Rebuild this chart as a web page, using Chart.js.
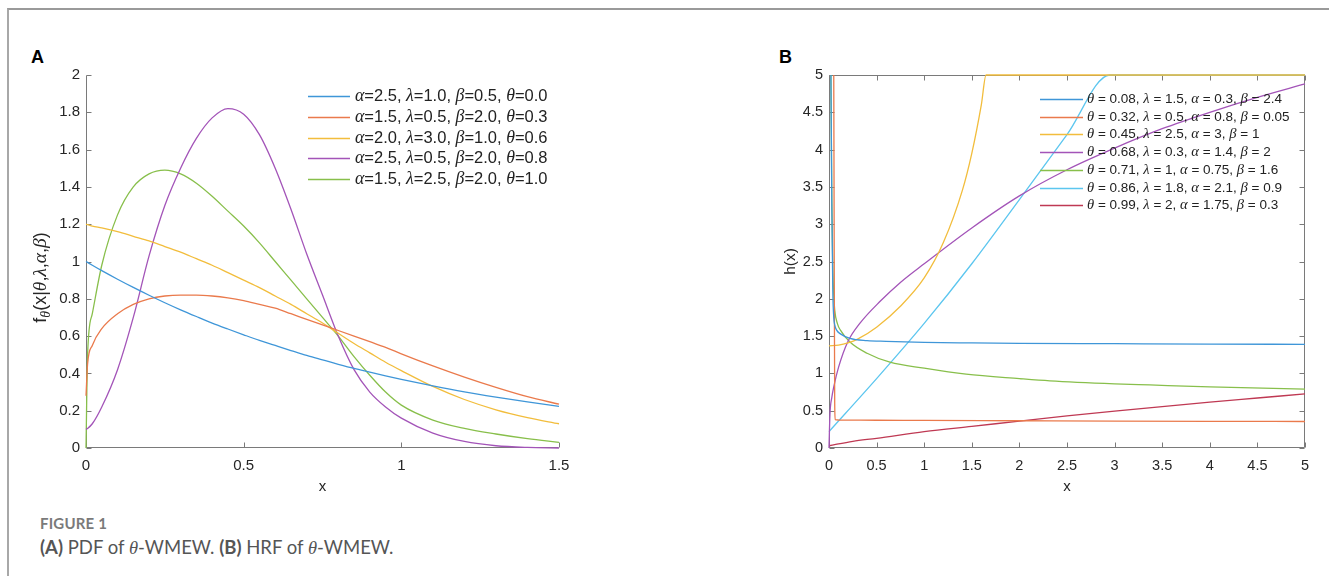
<!DOCTYPE html>
<html>
<head>
<meta charset="utf-8">
<script src="https://cdn.jsdelivr.net/npm/chart.js@4.4.1/dist/chart.umd.min.js"></script>
<style>
  body { margin: 0; background: #fff; }
  #page { position: relative; width: 1329px; height: 576px; overflow: hidden; }
  #frame { position: absolute; left: 7px; top: 8px; width: 1330px; height: 580px;
           border-top: 2px solid #9a9a9a; border-left: 2px solid #a8a8a8; }
  canvas { position: absolute; }
  .tag { position: absolute; font: bold 18px "Liberation Sans", Arial, sans-serif; color: #000; line-height: 1; }
  #cap1 { position: absolute; left: 40px; top: 516px; font: bold 15px Lato, sans-serif; color: #7a7a7a; line-height: 1; letter-spacing: 0.2px; }
  #cap2 { position: absolute; left: 40px; top: 538px; font: 18.5px Lato, sans-serif; color: #555; line-height: 1; }
  #cap2 i { font-family: "Liberation Serif", serif; }
</style>
</head>
<body>
<div id="page">
  <div id="frame"></div>
  <div class="tag" style="left:31px;top:48px">A</div>
  <div class="tag" style="left:779px;top:48px">B</div>
  <canvas id="pdf" width="600" height="460" style="left:0;top:40px"></canvas>
  <canvas id="hrf" width="589" height="460" style="left:740px;top:40px"></canvas>
  <div id="cap1">FIGURE 1</div>
  <div id="cap2"><b>(A)</b> PDF of <i>θ</i>-WMEW. <b>(B)</b> HRF of <i>θ</i>-WMEW.</div>
</div>
<script>
// ---- panel A: PDF curves ----
const pdfX = [0, 0.005, 0.02, 0.05, 0.1, 0.15, 0.2, 0.25, 0.3, 0.35, 0.4, 0.45, 0.5, 0.55,
  0.6, 0.65, 0.7, 0.75, 0.8, 0.85, 0.9, 0.95, 1.0, 1.1, 1.2, 1.3, 1.4, 1.5];
const pdfBlue   = [1.0, 0.995, 0.98, 0.951, 0.905, 0.861, 0.819, 0.779, 0.741, 0.705, 0.67, 0.638, 0.607, 0.577,
  0.55, 0.522, 0.497, 0.472, 0.449, 0.427, 0.407, 0.387, 0.368, 0.333, 0.301, 0.273, 0.247, 0.223];
const pdfOrange = [0.28, 0.45, 0.55, 0.64, 0.72, 0.77, 0.8, 0.815, 0.82, 0.82, 0.815, 0.805, 0.79, 0.77,
  0.75, 0.72, 0.69, 0.66, 0.63, 0.6, 0.57, 0.54, 0.505, 0.44, 0.38, 0.325, 0.275, 0.235];
const pdfYellow = [1.2, 1.198, 1.19, 1.18, 1.16, 1.135, 1.11, 1.08, 1.05, 1.015, 0.98, 0.94, 0.9, 0.86,
  0.815, 0.77, 0.72, 0.67, 0.615, 0.56, 0.51, 0.46, 0.415, 0.33, 0.26, 0.205, 0.163, 0.13];
const pdfPurple = [0.1, 0.105, 0.13, 0.22, 0.42, 0.7, 1.03, 1.3, 1.5, 1.66, 1.77, 1.82, 1.79, 1.68,
  1.5, 1.28, 1.04, 0.82, 0.6, 0.42, 0.3, 0.22, 0.16, 0.08, 0.035, 0.012, 0.003, 0.0];
const pdfGreen  = [0, 0.5, 0.72, 0.98, 1.25, 1.4, 1.47, 1.49, 1.47, 1.42, 1.35, 1.27, 1.19, 1.1,
  1.0, 0.9, 0.8, 0.7, 0.6, 0.49, 0.39, 0.3, 0.23, 0.15, 0.105, 0.075, 0.05, 0.03];
const pdfLabels = [
  'α=2.5, λ=1.0, β=0.5, θ=0.0',
  'α=1.5, λ=0.5, β=2.0, θ=0.3',
  'α=2.0, λ=3.0, β=1.0, θ=0.6',
  'α=2.5, λ=0.5, β=2.0, θ=0.8',
  'α=1.5, λ=2.5, β=2.0, θ=1.0'
];
const pdfColors = ['#3f96d8', '#ea7a4c', '#f2bd3c', '#a354b8', '#88bf4b'];
const pdfSeries = [pdfBlue, pdfOrange, pdfYellow, pdfPurple, pdfGreen];

// ---- panel B: HRF curves ----
const hrfBlueX   = [0.02, 0.03, 0.04, 0.05, 0.06, 0.08, 0.12, 0.22, 0.4, 0.6, 1, 1.5, 2, 3, 4, 5];
const hrfBlueY   = [5, 3.2, 2.1, 1.75, 1.65, 1.58, 1.53, 1.47, 1.44, 1.43, 1.415, 1.408, 1.403, 1.398, 1.393, 1.39];
const hrfOrangeX = [0.05, 0.055, 0.06, 0.065, 0.1, 0.5, 1, 2, 3, 4, 5];
const hrfOrangeY = [5, 2.5, 0.6, 0.38, 0.375, 0.372, 0.37, 0.365, 0.36, 0.357, 0.355];
const hrfYellowX = [0, 0.1, 0.2, 0.3, 0.5, 0.75, 1, 1.2, 1.4, 1.5, 1.6, 1.65, 2, 3, 4, 5];
const hrfYellowY = [1.37, 1.38, 1.41, 1.46, 1.62, 1.9, 2.28, 2.75, 3.45, 3.95, 4.6, 5, 5, 5, 5, 5];
const hrfPurpleX = [0, 0.01, 0.03, 0.05, 0.1, 0.2, 0.33, 0.54, 0.75, 1, 1.5, 2, 2.5, 3, 3.5, 4, 4.5, 5];
const hrfPurpleY = [0, 0.45, 0.68, 0.82, 1.08, 1.43, 1.68, 1.97, 2.22, 2.47, 2.95, 3.38, 3.73, 4.02, 4.28, 4.5, 4.7, 4.88];
const hrfGreenX  = [0.02, 0.03, 0.04, 0.05, 0.06, 0.09, 0.12, 0.22, 0.4, 0.64, 1, 1.44, 2, 2.32, 3, 3.37, 4, 5];
const hrfGreenY  = [5, 3.3, 2.4, 2.05, 1.85, 1.66, 1.58, 1.42, 1.27, 1.15, 1.07, 0.99, 0.93, 0.9, 0.86, 0.845, 0.82, 0.79];
const hrfCyanX   = [0, 0.5, 1, 1.5, 2, 2.5, 2.95, 3.5, 4, 4.5, 5];
const hrfCyanY   = [0.22, 0.93, 1.67, 2.47, 3.33, 4.2, 5, 5, 5, 5, 5];
const hrfRedX    = [0, 0.25, 0.5, 1, 1.5, 2, 2.5, 3, 3.5, 4, 4.5, 5];
const hrfRedY    = [0.03, 0.09, 0.13, 0.22, 0.29, 0.36, 0.43, 0.495, 0.555, 0.615, 0.67, 0.725];
const hrfLabels = [
  'θ = 0.08, λ = 1.5, α = 0.3, β = 2.4',
  'θ = 0.32, λ = 0.5, α = 0.8, β = 0.05',
  'θ = 0.45, λ = 2.5, α = 3, β = 1',
  'θ = 0.68, λ = 0.3, α = 1.4, β = 2',
  'θ = 0.71, λ = 1, α = 0.75, β = 1.6',
  'θ = 0.86, λ = 1.8, α = 2.1, β = 0.9',
  'θ = 0.99, λ = 2, α = 1.75, β = 0.3'
];
const hrfColors = ['#3f96d8', '#ea7a4c', '#f2bd3c', '#a354b8', '#88bf4b', '#5cc6ef', '#bf3953'];
const hrfSeries = [
  [hrfBlueX, hrfBlueY], [hrfOrangeX, hrfOrangeY], [hrfYellowX, hrfYellowY], [hrfPurpleX, hrfPurpleY],
  [hrfGreenX, hrfGreenY], [hrfCyanX, hrfCyanY], [hrfRedX, hrfRedY]
];

const SANS = '"Liberation Sans", Arial, sans-serif';
const SERIF = '"Liberation Serif", "Times New Roman", serif';
const AXIS = '#7a7a7a';
const TEXT = '#262626';

// split label in runs: greek letters italic serif, "_c" = subscript
function richParts(str) {
  const parts = [];
  for (let i = 0; i < str.length; i++) {
    let ch = str[i], sub = false;
    if (ch === '_') { sub = true; ch = str[++i]; }
    const greek = /[αβλθ]/.test(ch);
    const last = parts[parts.length - 1];
    if (last && last.greek === greek && last.sub === sub) last.t += ch;
    else parts.push({ t: ch, greek, sub });
  }
  return parts;
}
function richFont(p, size) {
  const s = p.sub ? size * 0.72 : size;
  return p.greek ? `italic ${s * 1.08}px ${SERIF}` : `${s}px ${SANS}`;
}
function richWidth(ctx, str, size) {
  let w = 0;
  richParts(str).forEach(p => { ctx.font = richFont(p, size); w += ctx.measureText(p.t).width; });
  return w;
}
function drawRich(ctx, str, x, y, size, color) {
  ctx.save();
  ctx.fillStyle = color;
  ctx.textBaseline = 'middle';
  ctx.textAlign = 'left';
  let cx = x;
  richParts(str).forEach(p => {
    ctx.font = richFont(p, size);
    ctx.fillText(p.t, cx, y + (p.sub ? size * 0.32 : 0));
    cx += ctx.measureText(p.t).width;
  });
  ctx.restore();
}

// MATLAB style axes: inward ticks, optional full box
const axesBox = {
  id: 'axesBox',
  beforeDatasetsDraw(chart, args, o) {
    const { ctx, chartArea: a, scales: { x, y } } = chart;
    const L = Math.round(a.left) + 0.5, R = Math.round(a.right) - 0.5;
    const T = Math.round(a.top) + 0.5, B = Math.round(a.bottom) - 0.5;
    ctx.save();
    ctx.strokeStyle = AXIS;
    ctx.lineWidth = 1;
    ctx.beginPath();
    ctx.moveTo(L, T); ctx.lineTo(L, B); ctx.lineTo(R, B);
    if (o.box) { ctx.lineTo(R, T); ctx.lineTo(L, T); }
    x.ticks.forEach(t => {
      const px = Math.round(x.getPixelForValue(t.value)) + 0.5;
      ctx.moveTo(px, B); ctx.lineTo(px, B - o.len);
      if (o.box) { ctx.moveTo(px, T); ctx.lineTo(px, T + o.len); }
    });
    y.ticks.forEach(t => {
      const py = Math.round(y.getPixelForValue(t.value)) + 0.5;
      ctx.moveTo(L, py); ctx.lineTo(L + o.len, py);
      if (o.box) { ctx.moveTo(R, py); ctx.lineTo(R - o.len, py); }
    });
    ctx.stroke();
    ctx.restore();
  }
};

// legend drawn inside the plot area, no frame
const floatLegend = {
  id: 'floatLegend',
  afterDraw(chart, args, o) {
    const { ctx, chartArea: a } = chart;
    const x0 = a.left + o.dx, y0 = a.top + o.dy;
    o.labels.forEach((lab, i) => {
      const y = Math.round(y0 + i * o.rowH) + 0.5;
      ctx.save();
      ctx.strokeStyle = o.colors[i];
      ctx.lineWidth = 1.3;
      ctx.beginPath();
      ctx.moveTo(x0, y); ctx.lineTo(x0 + o.lineLen, y);
      ctx.stroke();
      ctx.restore();
      drawRich(ctx, lab, x0 + o.lineLen + o.gap, y, o.size, '#222');
    });
  }
};

// rotated rich y-axis title
const yTitle = {
  id: 'yTitle',
  afterDraw(chart, args, o) {
    if (!o.text) return;
    const { ctx, chartArea: a } = chart;
    const w = richWidth(ctx, o.text, o.size);
    ctx.save();
    ctx.translate(o.x, (a.top + a.bottom) / 2 + o.dy);
    ctx.rotate(-Math.PI / 2);
    drawRich(ctx, o.text, -w / 2, 0, o.size, TEXT);
    ctx.restore();
  }
};

function fixWidth(w) { return s => { s.width = w; }; }
function fixHeight(h) { return s => { s.height = h; }; }
const plainNum = v => String(+v.toFixed(2));

function baseScales(xMax, xStep, yMax, yStep, yWidth, tickSize, yTitleText) {
  const ticks = { color: TEXT, font: { family: SANS, size: tickSize }, callback: plainNum };
  return {
    x: {
      type: 'linear', min: 0, max: xMax,
      grid: { display: false, drawTicks: false },
      border: { display: false },
      ticks: Object.assign({ stepSize: xStep, padding: 9, maxRotation: 0 }, ticks),
      title: { display: true, text: 'x', color: TEXT, font: { family: SANS, size: 15 }, padding: { top: 0, bottom: 4 } },
      afterFit: fixHeight(52)
    },
    y: {
      type: 'linear', min: 0, max: yMax,
      grid: { display: false, drawTicks: false },
      border: { display: false },
      ticks: Object.assign({ stepSize: yStep, padding: 6 }, ticks),
      title: yTitleText ? { display: true, text: yTitleText, color: TEXT, font: { family: SANS, size: 15.5 }, padding: { top: 41, bottom: 0 } } : { display: false },
      afterFit: fixWidth(yWidth)
    }
  };
}

const common = {
  responsive: false,
  animation: false,
  devicePixelRatio: 1,
  elements: { point: { radius: 0 }, line: { borderWidth: 1.3, cubicInterpolationMode: 'monotone' } }
};

new Chart(document.getElementById('pdf'), {
  type: 'line',
  data: {
    datasets: pdfSeries.map((ys, i) => ({
      label: pdfLabels[i],
      data: ys.map((v, k) => ({ x: pdfX[k], y: v })),
      borderColor: pdfColors[i],
      fill: false,
      clip: 1
    }))
  },
  options: Object.assign({}, common, {
    layout: { padding: { left: 0, top: 35, right: 41, bottom: 0 } },
    scales: baseScales(1.5, 0.5, 2, 0.2, 86, 15, null),
    plugins: {
      legend: { display: false }, tooltip: { enabled: false },
      axesBox: { box: false, len: 5 },
      floatLegend: { labels: pdfLabels, colors: pdfColors, dx: 222, dy: 21, rowH: 20.8, lineLen: 42, gap: 5, size: 16.5 },
      yTitle: { text: 'f_θ(x|θ,λ,α,β)', x: 41, dy: 16, size: 18 }
    }
  }),
  plugins: [axesBox, floatLegend, yTitle]
});

new Chart(document.getElementById('hrf'), {
  type: 'line',
  data: {
    datasets: hrfSeries.map((s, i) => ({
      label: hrfLabels[i],
      data: s[1].map((v, k) => ({ x: s[0][k], y: v })),
      borderColor: hrfColors[i],
      fill: false,
      clip: 1
    }))
  },
  options: Object.assign({}, common, {
    layout: { padding: { left: 0, top: 35, right: 24, bottom: 0 } },
    scales: baseScales(5, 0.5, 5, 0.5, 89, 14.5, 'h(x)'),
    plugins: {
      legend: { display: false }, tooltip: { enabled: false },
      axesBox: { box: true, len: 5 },
      floatLegend: { labels: hrfLabels, colors: hrfColors, dx: 211, dy: 24, rowH: 17.7, lineLen: 43, gap: 4, size: 13.5 },
      yTitle: { text: null }
    }
  }),
  plugins: [axesBox, floatLegend, yTitle]
});
</script>
</body>
</html>
